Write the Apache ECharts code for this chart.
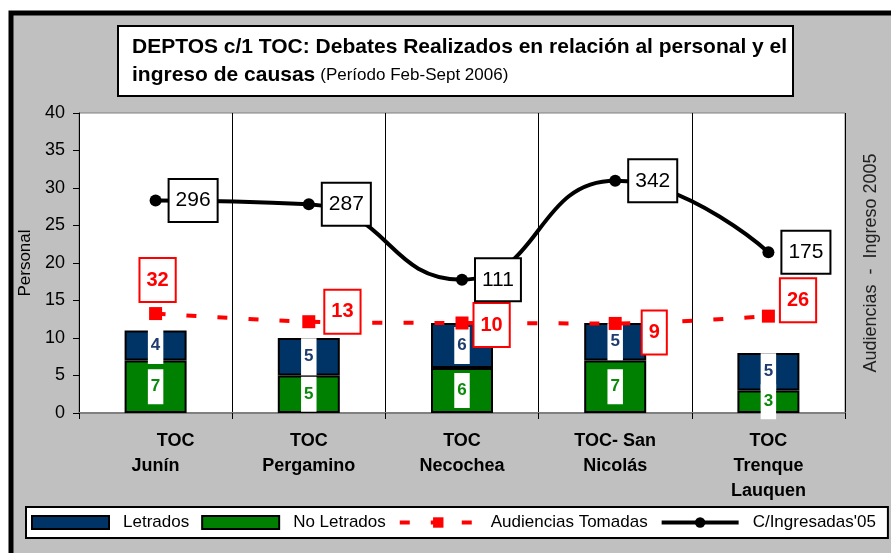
<!DOCTYPE html>
<html>
<head>
<meta charset="UTF-8">
<title>DEPTOS c/1 TOC</title>
<script src="https://cdn.jsdelivr.net/npm/echarts@6/dist/echarts.min.js"></script>
<style>
  html, body { margin: 0; padding: 0; background: #fff; }
  #main { width: 891px; height: 553px; }
</style>
</head>
<body>
<div id="main"></div>
<script>
// datos
var categorias = ['        TOC\nJunín', 'TOC\nPergamino', 'TOC\nNecochea', 'TOC- San\nNicolás', 'TOC\nTrenque\nLauquen'];
var letrados = [4, 5, 6, 5, 5];
var noLetrados = [7, 5, 6, 7, 3];
var audiencias = [32, 13, 10, 9, 26];
var ingresadas = [296, 287, 111, 342, 175];
var yTicks = { min: 0, max: 40, interval: 5 };

// ubicacion de las etiquetas rojas (a mano, como en el original)
var audPos = ['top', 'right', 'right', 'right', 'right'];
var audOffset = [[2, 0], [4, -10], [0, 2], [15, 9], [0, -16]];

var myChart = echarts.init(document.getElementById('main'));
var F = 'Liberation Sans, Arial, sans-serif';

var audData = audiencias.map(function (v, i) {
    return { value: v, label: { position: audPos[i], offset: audOffset[i] } };
});

var option = {
    backgroundColor: '#ffffff',
    textStyle: { fontFamily: F },
    graphic: [{
        type: 'rect',
        z: -100,
        silent: true,
        shape: { x: 11, y: 13, width: 2000, height: 2000 },
        style: { fill: '#c0c0c0', stroke: '#000', lineWidth: 5 }
    }],
    title: {
        left: 118,
        top: 22,
        padding: [11, 6, 11, 14],
        backgroundColor: '#fff',
        borderColor: '#000',
        borderWidth: 2,
        text: '{b|DEPTOS c/1 TOC: Debates Realizados en relación al personal y el}\n{b|ingreso de causas} {n|(Período Feb-Sept 2006)}',
        textStyle: {
            align: 'center',
            rich: {
                b: { fontFamily: F, fontSize: 21, fontWeight: 'bold', color: '#000', lineHeight: 28 },
                n: { fontFamily: F, fontSize: 17, fontWeight: 'normal', color: '#000', lineHeight: 28 }
            }
        }
    },
    legend: {
        left: 26,
        top: 507,
        width: 858,
        padding: [7, 12, 7, 5],
        backgroundColor: '#fff',
        borderColor: '#000',
        borderWidth: 2,
        itemWidth: 77,
        itemHeight: 13,
        itemGap: 12,
        data: [
            { name: 'Letrados', icon: 'rect' },
            { name: 'No Letrados', icon: 'rect' },
            { name: 'Audiencias Tomadas', lineStyle: { width: 4 } },
            { name: "C/Ingresadas'05", lineStyle: { width: 4 } }
        ],
        textStyle: { fontFamily: F, fontSize: 17, color: '#000', padding: [0, 0, 0, 9] }
    },
    grid: {
        left: 79,
        right: 46,
        top: 113,
        bottom: 140,
        show: true,
        backgroundColor: '#fff',
        borderColor: '#808080',
        borderWidth: 1
    },
    xAxis: {
        type: 'category',
        data: categorias,
        axisLine: { lineStyle: { color: '#808080', width: 2 } },
        axisTick: { show: true, length: 6, lineStyle: { color: '#000' } },
        splitLine: { show: true, lineStyle: { color: '#000', width: 1 } },
        axisLabel: {
            interval: 0,
            margin: 16,
            fontFamily: F,
            fontSize: 18,
            fontWeight: 'bold',
            color: '#000',
            lineHeight: 25
        }
    },
    yAxis: [{
        type: 'value',
        min: yTicks.min,
        max: yTicks.max,
        interval: yTicks.interval,
        name: 'Personal',
        nameLocation: 'middle',
        nameGap: 42,
        nameTextStyle: { fontFamily: F, fontSize: 17, color: '#000' },
        axisLine: { show: true, lineStyle: { color: '#000' } },
        axisTick: { show: true, length: 6, lineStyle: { color: '#000' } },
        splitLine: { show: false },
        axisLabel: { margin: 14, fontFamily: F, fontSize: 18, color: '#000' }
    }, {
        type: 'value',
        min: -200,
        max: 500,
        position: 'right',
        name: 'Audiencias  -  Ingreso 2005',
        nameLocation: 'middle',
        nameRotate: 90,
        nameGap: 17,
        nameTextStyle: { fontFamily: F, fontSize: 18, color: '#222' },
        axisLine: { show: false },
        axisTick: { show: false },
        axisLabel: { show: false },
        splitLine: { show: false }
    }],
    series: [{
        name: 'No Letrados',
        type: 'bar',
        stack: 'personal',
        barWidth: 62,
        data: noLetrados,
        itemStyle: { color: '#008000', borderColor: '#000', borderWidth: 2 },
        label: {
            show: true,
            position: 'inside',
            fontFamily: F,
            fontSize: 17,
            fontWeight: 'bold',
            color: '#0a8a0a',
            backgroundColor: '#fff',
            padding: [9, 3]
        }
    }, {
        name: 'Letrados',
        type: 'bar',
        stack: 'personal',
        barWidth: 62,
        data: letrados,
        itemStyle: { color: '#003366', borderColor: '#000', borderWidth: 2 },
        label: {
            show: true,
            position: 'inside',
            fontFamily: F,
            fontSize: 17,
            fontWeight: 'bold',
            color: '#1f3c6e',
            backgroundColor: '#fff',
            padding: [10, 3]
        }
    }, {
        name: 'Audiencias Tomadas',
        type: 'line',
        yAxisIndex: 1,
        data: audData,
        smooth: 0.3,
        symbol: 'rect',
        symbolSize: 13,
        itemStyle: { color: '#ff0000' },
        lineStyle: { color: '#ff0000', width: 4, type: [10, 21] },
        label: {
            show: true,
            distance: 6,
            fontFamily: F,
            fontSize: 20,
            fontWeight: 'bold',
            color: '#ff0000',
            backgroundColor: '#fff',
            borderColor: '#ff0000',
            borderWidth: 2,
            padding: [11, 6]
        }
    }, {
        name: "C/Ingresadas'05",
        type: 'line',
        yAxisIndex: 1,
        data: ingresadas,
        smooth: 0.5,
        symbol: 'circle',
        symbolSize: 12,
        itemStyle: { color: '#000' },
        lineStyle: { color: '#000', width: 4 },
        label: {
            show: true,
            position: 'right',
            distance: 8,
            fontFamily: F,
            fontSize: 21,
            color: '#000',
            backgroundColor: '#fff',
            borderColor: '#000',
            borderWidth: 2,
            padding: [10, 6]
        }
    }]
};

myChart.setOption(option);
</script>
</body>
</html>
